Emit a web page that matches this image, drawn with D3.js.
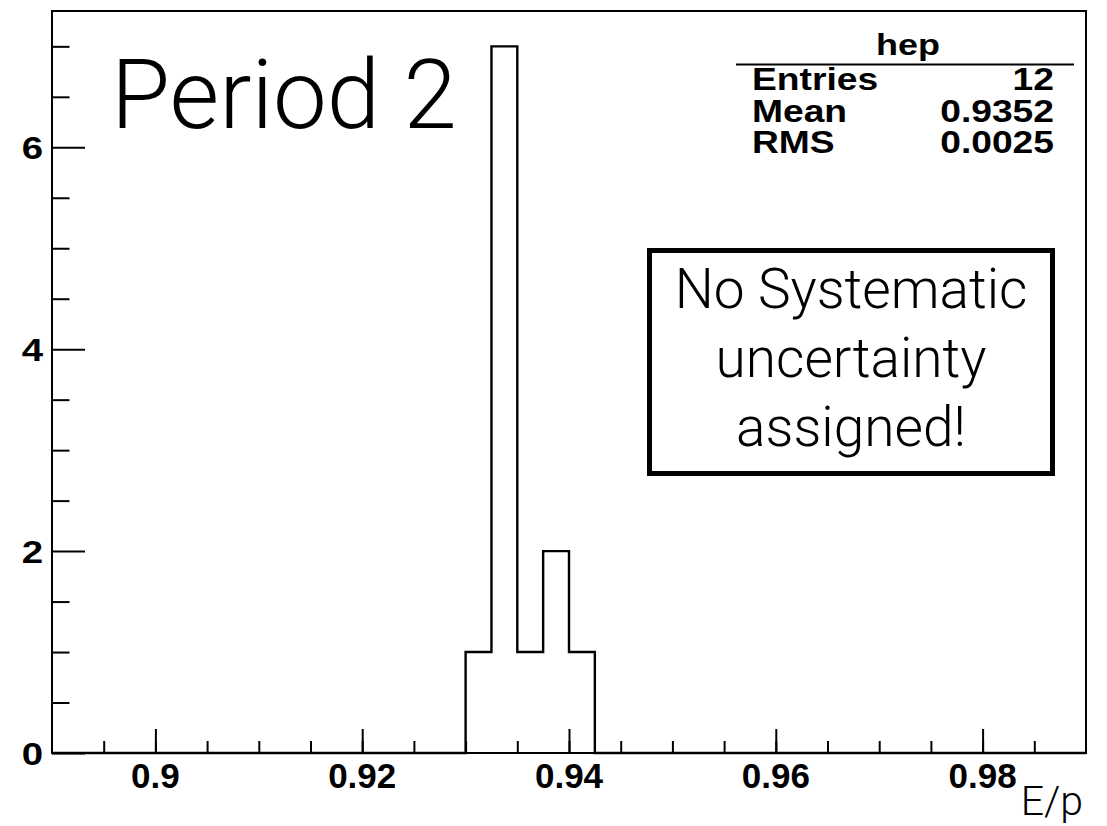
<!DOCTYPE html>
<html>
<head>
<meta charset="utf-8">
<script src="https://cdn.jsdelivr.net/npm/d3@7"></script>
<style>
html,body{margin:0;padding:0;background:#fff;}
svg{display:block;}
</style>
</head>
<body>
<svg id="chart" width="1107" height="826"></svg>
<script>
// ---- data ----
const binEdgesLow = [0.9300, 0.9325, 0.9350, 0.9375, 0.9400];
const binCounts   = [1, 7, 1, 2, 1];
const binWidth = 0.0025;
const xDomain = [0.89, 0.99];
const yDomain = [0, 7.35];
const xMajorTicks = [0.90, 0.92, 0.94, 0.96, 0.98];
const xTickLabels = ["0.9", "0.92", "0.94", "0.96", "0.98"];
const yMajorTicks = [0, 2, 4, 6];
const yTickLabels = ["0", "2", "4", "6"];
const statsTitle = "hep";
const statsNames = ["Entries", "Mean", "RMS"];
const statsValues = ["12", "0.9352", "0.0025"];
const titleText = "Period 2";
const noteLines = ["No Systematic", "uncertainty", "assigned!"];
const xAxisTitle = "E/p";

// ---- layout ----
const svg = d3.select("#chart");
const frame = {left: 52, right: 1086, top: 11, bottom: 753};
const x = d3.scaleLinear().domain(xDomain).range([frame.left, frame.right]);
const y = d3.scaleLinear().domain(yDomain).range([frame.bottom, frame.top]);

const boldFont = "'Liberation Sans', Arial, Helvetica, sans-serif";
const lightFont = "'Helvetica Neue', Roboto, 'Liberation Sans', Arial, sans-serif";

// histogram outline (step path over full range)
const nb = Math.round((xDomain[1] - xDomain[0]) / binWidth);
const pts = [];
for (let i = 0; i < nb; i++) {
  const lo = xDomain[0] + i * binWidth;
  const k = binEdgesLow.findIndex(e => Math.abs(e - lo) < 1e-9);
  pts.push({x: lo, v: k >= 0 ? binCounts[k] : 0});
}
pts.push({x: xDomain[1], v: 0});
const line = d3.line().x(d => x(d.x)).y(d => y(d.v)).curve(d3.curveStepAfter);
svg.append("path").datum(pts)
  .attr("d", line).attr("fill", "none").attr("stroke", "#000")
  .attr("stroke-width", 2.4).attr("stroke-linejoin", "miter");

// x axis (ticks inside, upward)
const xMinor = d3.range(0, 21).map(i => +(xDomain[0] + i * 0.005).toFixed(4))
  .filter(v => v > xDomain[0] && v < xDomain[1]);
const xAxisMinor = d3.axisTop(x).tickValues(xMinor).tickSize(12).tickFormat("");
const gxm = svg.append("g").attr("transform", `translate(0,${frame.bottom})`).call(xAxisMinor);
const xAxisMajor = d3.axisTop(x).tickValues(xMajorTicks).tickSize(24).tickFormat("");
const gx = svg.append("g").attr("transform", `translate(0,${frame.bottom})`).call(xAxisMajor);
[gxm, gx].forEach(g => {
  g.select(".domain").remove();
  g.selectAll(".tick line").attr("stroke", "#000").attr("stroke-width", 2);
});
svg.selectAll(".xlab").data(xMajorTicks).enter().append("text")
  .attr("class", "xlab")
  .attr("x", d => x(d)).attr("y", 788)
  .attr("text-anchor", "middle")
  .attr("font-family", boldFont).attr("font-weight", "bold").attr("font-size", 35)
  .attr("fill", "#000")
  .text((d, i) => xTickLabels[i]);

// y axis (ticks inside, rightward)
const yMinor = d3.range(1, 15).map(i => i * 0.5).filter(v => v % 2 !== 0);
const yAxisMinor = d3.axisRight(y).tickValues(yMinor).tickSize(17.5).tickFormat("");
const gym = svg.append("g").attr("transform", `translate(${frame.left},0)`).call(yAxisMinor);
const yAxisMajor = d3.axisRight(y).tickValues(yMajorTicks).tickSize(33).tickFormat("");
const gy = svg.append("g").attr("transform", `translate(${frame.left},0)`).call(yAxisMajor);
[gym, gy].forEach(g => {
  g.select(".domain").remove();
  g.selectAll(".tick line").attr("stroke", "#000").attr("stroke-width", 2);
});
svg.selectAll(".ylab").data(yMajorTicks).enter().append("text")
  .attr("class", "ylab")
  .attr("transform", d => `translate(43,${y(d) + 11.5}) scale(1.2,1)`)
  .attr("text-anchor", "end")
  .attr("font-family", boldFont).attr("font-weight", "bold").attr("font-size", 32)
  .attr("fill", "#000")
  .text((d, i) => yTickLabels[i]);

// frame
svg.append("rect")
  .attr("x", frame.left).attr("y", frame.top)
  .attr("width", frame.right - frame.left).attr("height", frame.bottom - frame.top)
  .attr("fill", "none").attr("stroke", "#000").attr("stroke-width", 2);

// stats box
svg.append("text")
  .attr("transform", "translate(908,55) scale(1.2,1)")
  .attr("text-anchor", "middle")
  .attr("font-family", boldFont).attr("font-weight", "bold").attr("font-size", 30)
  .text(statsTitle);
svg.append("line").attr("x1", 736).attr("x2", 1074).attr("y1", 64.5).attr("y2", 64.5)
  .attr("stroke", "#000").attr("stroke-width", 2);
const rowY = [90, 121.5, 152.5];
statsNames.forEach((n, i) => {
  svg.append("text")
    .attr("transform", `translate(752,${rowY[i]}) scale(1.22,1)`)
    .attr("font-family", boldFont).attr("font-weight", "bold").attr("font-size", 30.5)
    .text(n);
  svg.append("text")
    .attr("transform", `translate(1054,${rowY[i]}) scale(1.22,1)`)
    .attr("text-anchor", "end")
    .attr("font-family", boldFont).attr("font-weight", "bold").attr("font-size", 30.5)
    .text(statsValues[i]);
});

// "Period 2"
svg.append("text")
  .attr("x", 111).attr("y", 128)
  .attr("font-family", lightFont).attr("font-weight", 300).attr("font-size", 96)
  .attr("fill", "#000")
  .text(titleText);

// note box
svg.append("rect")
  .attr("x", 649.5).attr("y", 250.5).attr("width", 403).attr("height", 223)
  .attr("fill", "#fff").attr("stroke", "#000").attr("stroke-width", 5);
const noteY = [308, 377, 446];
noteLines.forEach((t, i) => {
  svg.append("text")
    .attr("x", 851).attr("y", noteY[i])
    .attr("text-anchor", "middle")
    .attr("font-family", lightFont).attr("font-weight", 300).attr("font-size", 55)
    .attr("fill", "#000")
    .text(t);
});

// axis title
svg.append("text")
  .attr("x", 1083).attr("y", 815)
  .attr("text-anchor", "end")
  .attr("font-family", lightFont).attr("font-weight", 300).attr("font-size", 41)
  .attr("fill", "#000")
  .text(xAxisTitle);
</script>
</body>
</html>
